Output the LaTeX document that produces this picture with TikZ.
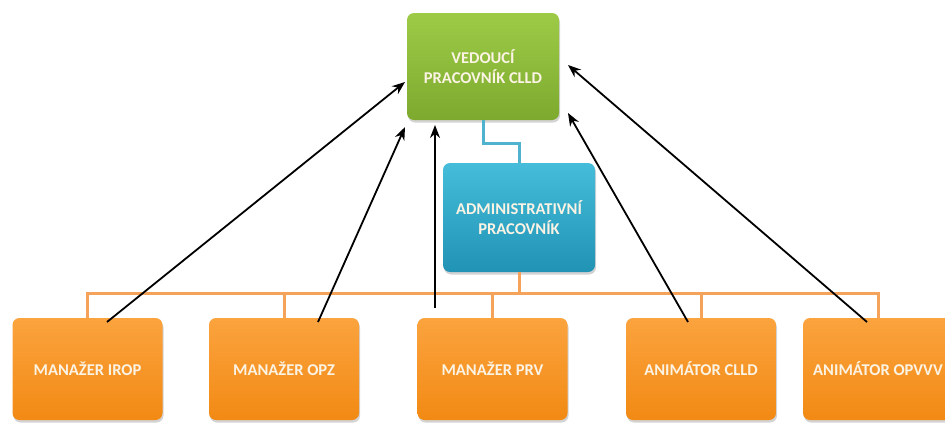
\documentclass[tikz,border=0pt]{standalone}
\usepackage{fontspec}
\setmainfont{Carlito}
\usetikzlibrary{arrows.meta,shadows,calc}
\definecolor{gtop}{HTML}{9DCB47}
\definecolor{gbot}{HTML}{7DAA2E}
\definecolor{btop}{HTML}{45BDDA}
\definecolor{bbot}{HTML}{2193B5}
\definecolor{otop}{HTML}{FBA33E}
\definecolor{obot}{HTML}{F28A14}
\definecolor{oline}{HTML}{F5A35A}
\definecolor{bline}{HTML}{4FB2CF}
\definecolor{txt}{HTML}{FBF3E4}
\tikzset{
  box/.style={rounded corners=7pt, text=txt,
    font=\bfseries\fontsize{16.5}{20}\selectfont, align=center, inner sep=0pt,
    drop shadow={opacity=0.35, shadow xshift=1pt, shadow yshift=-2.5pt}},
  greenbox/.style={box, top color=gtop, bottom color=gbot, minimum width=152pt, minimum height=107pt},
  bluebox/.style={box, top color=btop, bottom color=bbot, minimum width=152pt, minimum height=109pt},
  orangebox/.style={box, top color=otop, bottom color=obot, minimum width=150pt, minimum height=102pt},
  orgline/.style={draw=oline, line width=3pt},
  blueline/.style={draw=bline, line width=3pt},
  arr/.style={draw=black, line width=1.8pt, -{Stealth[length=13pt,width=10pt]}}
}
\begin{document}
\begin{tikzpicture}[x=1pt,y=-1pt]
\useasboundingbox (0,0) rectangle (945,423);
\clip (0,0) rectangle (945,423);
\coordinate (bend) at (483,143);
\coordinate (bus) at (519,293);
\node[greenbox] (lead) at (483,66.5) {VEDOUCÍ\\PRACOVNÍK CLLD};
\node[bluebox] (admin) at (519,217.5) {ADMINISTRATIVNÍ\\PRACOVNÍK};
\node[orangebox] (irop) at (87.5,369) {MANAŽER IROP};
\node[orangebox] (opz) at (284,369) {MANAŽER OPZ};
\node[orangebox] (prv) at (492.5,369) {MANAŽER PRV};
\node[orangebox] (clld) at (701,369) {ANIMÁTOR CLLD};
\node[orangebox] (opvvv) at (878,369) {ANIMÁTOR OPVVV};
\draw[blueline] (lead.south) |- (bend) -| (admin.north);
\draw[orgline] (admin.south) -- (bus);
\draw[orgline] (irop.north) |- (bus) -| (opvvv.north);
\draw[orgline] (opz.north) -- (opz.north |- bus);
\draw[orgline] (prv.north) -- (prv.north |- bus);
\draw[orgline] (clld.north) -- (clld.north |- bus);
\coordinate (t1) at (405,82);
\coordinate (t2) at (405,127);
\coordinate (t3) at (435,125);
\coordinate (t4) at (568,65);
\coordinate (t5) at (568,113);
\coordinate (s1) at (107,322);
\coordinate (s2) at (318,322);
\coordinate (s3) at (435,308);
\coordinate (s4) at (688,322);
\coordinate (s5) at (867,322);
\draw[arr] (s1) -- (t1);
\draw[arr] (s2) -- (t2);
\draw[arr] (s3) -- (t3);
\draw[arr] (s4) -- (t5);
\draw[arr] (s5) -- (t4);
\end{tikzpicture}
\end{document}
